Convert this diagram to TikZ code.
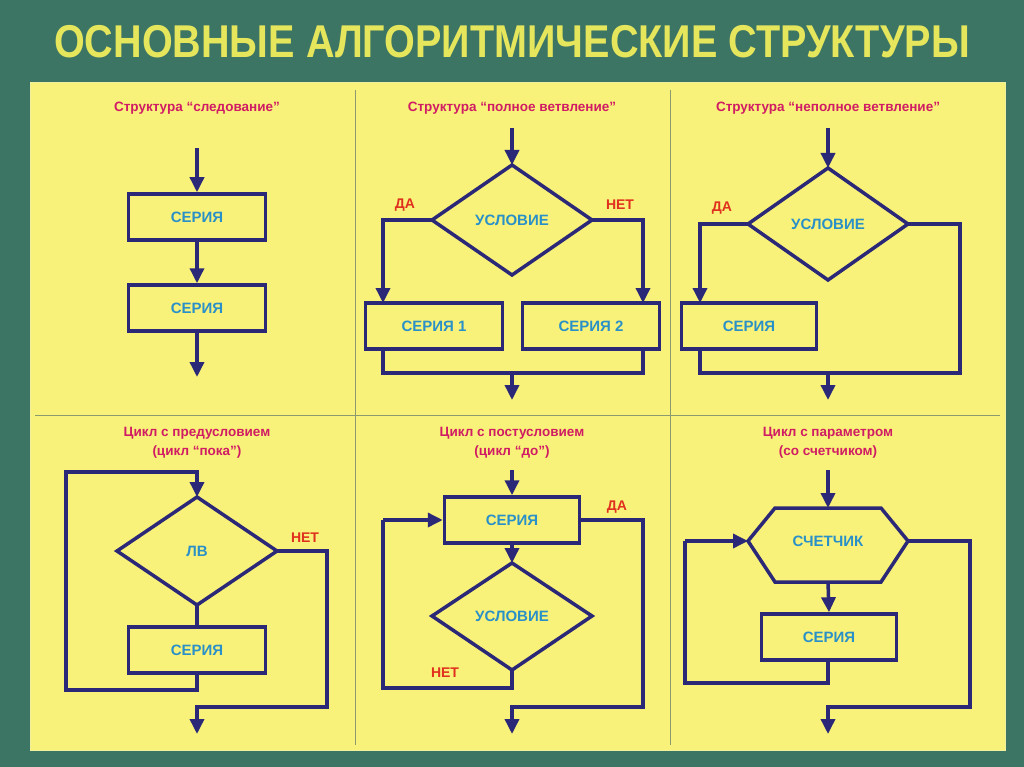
\documentclass[tikz,border=0pt]{standalone}
\usepackage{fontspec}
\setmainfont{Liberation Sans}
\usetikzlibrary{arrows.meta}
\definecolor{bgc}{HTML}{3D7565}
\definecolor{pan}{HTML}{F9F27A}
\definecolor{ttl}{HTML}{E6E65C}
\definecolor{nav}{HTML}{2C2878}
\definecolor{txt}{HTML}{2A90C8}
\definecolor{mag}{HTML}{D01C64}
\definecolor{yes}{HTML}{E0301E}
\definecolor{grd}{HTML}{8C9A70}
\begin{document}
\begin{tikzpicture}[x=1pt,y=-1pt,
  ln/.style={draw=nav,line width=3.5pt,line join=miter},
  ar/.style={ln,-{Triangle[length=15pt,width=14pt]}},
  blk/.style={ln,fill=pan,minimum width=137pt,minimum height=46pt,inner sep=0pt,text=txt,font=\bfseries\fontsize{15}{17}\selectfont},
  dia/.style={text=txt,font=\bfseries\fontsize{15}{17}\selectfont},
  hd/.style={text=mag,font=\bfseries\fontsize{13.5}{19}\selectfont,align=center},
  yn/.style={text=yes,font=\bfseries\fontsize{14}{16}\selectfont}]
\fill[bgc] (0,0) rectangle (1024,767);
\node[text=ttl,font=\bfseries\fontsize{46}{50}\selectfont] (title) at (512,42) {\scalebox{0.86}[1]{ОСНОВНЫЕ АЛГОРИТМИЧЕСКИЕ СТРУКТУРЫ}};
\fill[pan,draw=ttl!60!white,line width=1pt] (30,83) rectangle (1005,750);
\draw[grd,line width=1pt] (355,90)--(355,745) (670,90)--(670,745) (35,415)--(1000,415);
% panel 1
\node[hd] (h1) at (197,108) {Структура “следование”};
\node[blk] (s1) at (197,217) {СЕРИЯ};
\node[blk] (s2) at (197,308) {СЕРИЯ};
\coordinate (a1) at (197,148); \coordinate (e1) at (197,377);
\draw[ar] (a1)--(s1.north);
\draw[ar] (s1.south)--(s2.north);
\draw[ar] (s2.south)--(e1);
% panel 2
\node[hd] (h2) at (512,108) {Структура “полное ветвление”};
\coordinate (d2t) at (512,165); \coordinate (d2b) at (512,275);
\coordinate (d2l) at (432,220); \coordinate (d2r) at (592,220);
\draw[ln,fill=pan] (d2t)--(d2r)--(d2b)--(d2l)--cycle;
\node[dia] (c2) at (512,220) {УСЛОВИЕ};
\node[blk] (b21) at (434,326) {СЕРИЯ 1};
\node[blk] (b22) at (591,326) {СЕРИЯ 2};
\coordinate (a2) at (512,128); \coordinate (j2) at (512,373); \coordinate (e2) at (512,400);
\draw[ar] (a2)--(d2t);
\draw[ar] (d2l)-|(383,303);
\draw[ar] (d2r)-|(643,303);
\draw[ln] (383,349)|-(643,373)--(643,349);
\draw[ar] (j2)--(e2);
\node[yn] (y2) at (405,205) {ДА};
\node[yn] (n2) at (620,205) {НЕТ};
% panel 3
\node[hd] (h3) at (828,108) {Структура “неполное ветвление”};
\coordinate (d3t) at (828,168); \coordinate (d3b) at (828,280);
\coordinate (d3l) at (748,224); \coordinate (d3r) at (908,224);
\draw[ln,fill=pan] (d3t)--(d3r)--(d3b)--(d3l)--cycle;
\node[dia] (c3) at (828,224) {УСЛОВИЕ};
\node[blk,minimum width=135pt] (b3) at (749,326) {СЕРИЯ};
\coordinate (a3) at (828,128); \coordinate (j3) at (828,373); \coordinate (e3) at (828,400);
\draw[ar] (a3)--(d3t);
\draw[ar] (d3l)-|(700,303);
\draw[ln] (d3r)-|(960,373)-|(700,349);
\draw[ar] (j3)--(e3);
\node[yn] (y3) at (722,208) {ДА};
% panel 4
\node[hd] (h4) at (197,443) {Цикл с предусловием\\(цикл “пока”)};
\coordinate (d4t) at (197,497); \coordinate (d4b) at (197,605);
\coordinate (d4l) at (117,551); \coordinate (d4r) at (277,551);
\draw[ln,fill=pan] (d4t)--(d4r)--(d4b)--(d4l)--cycle;
\node[dia] (c4) at (197,551) {ЛВ};
\node[blk] (b4) at (197,650) {СЕРИЯ};
\coordinate (e4) at (197,734);
\draw[ar] (197,470)--(d4t);
\draw[ln] (d4b)--(b4.north);
\draw[ln] (b4.south)--(197,690)-|(66,472)-|(197,480);
\draw[ln] (d4r)-|(327,707)-|(197,715);
\draw[ar] (197,706)--(e4);
\node[yn] (n4) at (305,538) {НЕТ};
% panel 5
\node[hd] (h5) at (512,443) {Цикл с постусловием\\(цикл “до”)};
\node[blk,minimum width=135pt] (b5) at (512,520) {СЕРИЯ};
\coordinate (d5t) at (512,563); \coordinate (d5b) at (512,670);
\coordinate (d5l) at (432,616); \coordinate (d5r) at (592,616);
\draw[ar] (512,470)--(b5.north);
\draw[ar] (b5.south)--(d5t);
\draw[ln,fill=pan] (d5t)--(d5r)--(d5b)--(d5l)--cycle;
\node[dia] (c5) at (512,616) {УСЛОВИЕ};
\draw[ln] (d5b)--(512,688)-|(383,520);
\draw[ar] (383,520)--(b5.west);
\draw[ln] (b5.east)-|(643,707)-|(512,715);
\draw[ar] (512,706)--(512,734);
\node[yn] (y5) at (617,507) {ДА};
\node[yn] (n5) at (445,673) {НЕТ};
% panel 6
\node[hd] (h6) at (828,443) {Цикл с параметром\\(со счетчиком)};
\coordinate (hl) at (748,541); \coordinate (hr) at (908,541);
\draw[ln,fill=pan] (hl)--(775,508)--(881,508)--(hr)--(881,582)--(775,582)--cycle;
\node[dia] (c6) at (828,541) {СЧЕТЧИК};
\node[blk,minimum width=135pt] (b6) at (829,637) {СЕРИЯ};
\draw[ar] (828,470)--(828,508);
\draw[ar] (828,582)--(b6.north);
\draw[ln] (828,660)--(828,683)-|(685,541);
\draw[ar] (685,541)--(hl);
\draw[ln] (hr)-|(970,707)-|(828,715);
\draw[ar] (828,706)--(828,734);
\end{tikzpicture}
\end{document}
